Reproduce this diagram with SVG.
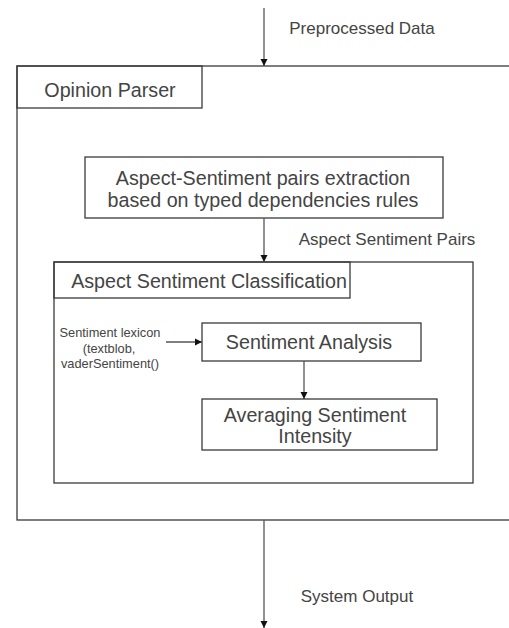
<svg xmlns="http://www.w3.org/2000/svg" width="509" height="628" viewBox="0 0 509 628">
<defs>
<marker id="ah" markerWidth="8" markerHeight="8" refX="7" refY="4" orient="auto" markerUnits="userSpaceOnUse">
<path d="M0,0.5 L7,4 L0,7.5 Z" fill="#111"/>
</marker>
<style>
.box{fill:#fff;stroke:#3a3a3a;stroke-width:1.3}
.lbl{fill:none;stroke:#3a3a3a;stroke-width:1.3}
.t{font-family:"Liberation Sans",Arial,sans-serif;fill:#444;text-anchor:middle}
.big{font-size:19.7px}
.mid{font-size:17px}
.sm{font-size:12.8px}
.edge{fill:none;stroke:#555;stroke-width:1.3;marker-end:url(#ah)}
</style>
</defs>
<rect width="509" height="628" fill="#fff"/>
<g id="opinion-parser">
<rect class="box" x="17" y="66" width="500" height="454"/>
<rect class="lbl" x="17" y="66" width="185" height="42"/>
<text class="t big" x="110" y="97">Opinion Parser</text>
</g>
<g id="extraction">
<rect class="box" x="85" y="157" width="358" height="61"/>
<text class="t big" x="263" y="185">Aspect-Sentiment pairs extraction</text>
<text class="t big" x="263" y="207">based on typed dependencies rules</text>
</g>
<g id="asc">
<rect class="box" x="54" y="262" width="419" height="221"/>
<rect class="lbl" x="54" y="262" width="296" height="36"/>
<text class="t big" x="209" y="288">Aspect Sentiment Classification</text>
</g>
<g id="lexicon">
<text class="t sm" x="110" y="337">Sentiment lexicon</text>
<text class="t sm" x="109" y="353">(textblob,</text>
<text class="t sm" x="110" y="368">vaderSentiment()</text>
</g>
<g id="sentiment-analysis">
<rect class="box" x="202" y="323" width="219" height="38"/>
<text class="t big" x="309" y="349">Sentiment Analysis</text>
</g>
<g id="averaging">
<rect class="box" x="202" y="399" width="235" height="51"/>
<text class="t big" x="315" y="422">Averaging Sentiment</text>
<text class="t big" x="315" y="443">Intensity</text>
</g>
<g id="connectors">
<line class="edge" x1="264" y1="8" x2="264" y2="66"/>
<line class="edge" x1="264" y1="218" x2="264" y2="262"/>
<line class="edge" x1="166" y1="342" x2="202" y2="342"/>
<line class="edge" x1="304" y1="361" x2="304" y2="399"/>
<line class="edge" x1="264" y1="520" x2="264" y2="628"/>
<text class="t mid" x="362" y="34">Preprocessed Data</text>
<text class="t mid" x="387" y="245">Aspect Sentiment Pairs</text>
<text class="t mid" x="357" y="602">System Output</text>
</g>
</svg>
